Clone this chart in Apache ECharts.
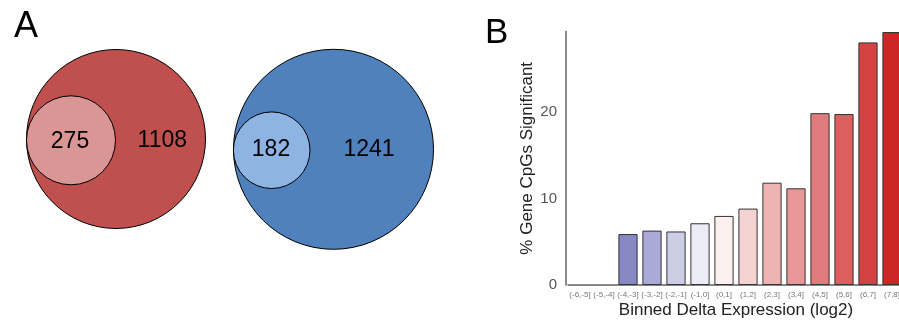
<!DOCTYPE html>
<html>
<head>
<meta charset="utf-8">
<script src="https://cdn.jsdelivr.net/npm/echarts@6/dist/echarts.min.js"></script>
<style>html,body{margin:0;padding:0;background:#fff}#c{width:899px;height:320px}</style>
</head>
<body>
<div id="c"></div>
<script>
// ---- Panel B data ----
const categories = ['(-6,-5]','(-5,-4]','(-4,-3]','(-3,-2]','(-2,-1]','(-1,0]','(0,1]','(1,2]','(2,3]','(3,4]','(4,5]','(5,6]','(6,7]','(7,8]'];
const pctSignificant = [null, null, 5.9, 6.3, 6.2, 7.15, 8.0, 8.85, 11.85, 11.2, 19.9, 19.8, 28.1, 29.3];
const yTickValues = [0, 10, 20];
// ---- Panel A data (Venn counts) ----
const vennLabels = ['275', '1108', '182', '1241'];
const vennCounts = [275, 1108, 182, 1241];

// ---- styling / layout (not data) ----
const barColors = ['#ffffff','#ffffff','#8888c4','#aaaad6','#cdcde6','#ececf6','#faf0f0','#f6d3d3','#eeb4b4','#e89898','#e27b7b','#dc5e5e','#d44242','#cc2626'];
// Venn layout in a 450x320 unit space: [cx, cy, r, fill]
const vennCircleLayout = [
  [116, 139, 89.5, '#c0504d'],
  [71, 140.3, 44.5, '#d99694'],
  [333.5, 149.3, 100, '#4f81bd'],
  [271.7, 150.2, 38.3, '#8eb4e3']
];
const vennTextLayout = [[70, 141.5], [162.3, 141], [271, 150], [369, 150]];

const chart = echarts.init(document.getElementById('c'), null, {renderer: 'canvas'});
const FONT = 'Liberation Sans, Arial, sans-serif';

chart.setOption({
  animation: false,
  graphic: [
    {type: 'text', left: 14, top: 9, style: {text: 'A', font: '36px ' + FONT, fill: '#000'}},
    {type: 'text', left: 485, top: 16, style: {text: 'B', font: '35px ' + FONT, fill: '#000'}}
  ],
  grid: [
    {left: 568, top: 31.6, width: 336, height: 253.4, containLabel: false, outerBoundsMode: 'none'},
    {left: 0, top: 0, width: 450, height: 320, containLabel: false, outerBoundsMode: 'none'}
  ],
  xAxis: [
    {
      gridIndex: 0, type: 'category', data: categories,
      axisLine: {show: true, lineStyle: {color: '#606060', width: 1.5}},
      axisTick: {show: false},
      axisLabel: {interval: 0, fontSize: 8, color: '#777', margin: 6, fontFamily: FONT, hideOverlap: false},
      name: 'Binned Delta Expression (log2)', nameLocation: 'middle', nameGap: 16.5, nameMoveOverlap: false,
      nameTextStyle: {fontSize: 17, color: '#222', fontFamily: FONT}
    },
    {gridIndex: 1, type: 'value', min: 0, max: 450, show: false}
  ],
  yAxis: [
    {
      gridIndex: 0, type: 'value', min: 0, max: 29.35, interval: 10, offset: 2,
      axisLine: {show: true, lineStyle: {color: '#606060', width: 1.5}},
      axisTick: {show: false},
      splitLine: {show: false},
      axisLabel: {fontSize: 15, color: '#555', margin: 9, fontFamily: FONT, showMaxLabel: false,
        formatter: v => yTickValues.includes(v) ? String(v) : ''},
      name: '% Gene CpGs Significant', nameLocation: 'middle', nameGap: 30, nameRotate: 90, nameMoveOverlap: false,
      nameTextStyle: {fontSize: 17, color: '#222', fontFamily: FONT}
    },
    {gridIndex: 1, type: 'value', min: 0, max: 320, inverse: true, show: false}
  ],
  series: [
    {
      type: 'bar', xAxisIndex: 0, yAxisIndex: 0,
      barCategoryGap: '20%',
      data: pctSignificant.map((v, i) => ({value: v, itemStyle: {color: barColors[i]}})),
      itemStyle: {borderColor: '#333', borderWidth: 1}
    },
    {
      type: 'custom', xAxisIndex: 1, yAxisIndex: 1, silent: true,
      data: vennCircleLayout.map((c, i) => [c[0], c[1], c[2], i]),
      renderItem: function (params, api) {
        const p = api.coord([api.value(0), api.value(1)]);
        const r = api.size([api.value(2), 0])[0];
        const c = vennCircleLayout[api.value(3)];
        return {type: 'circle', shape: {cx: p[0], cy: p[1], r: r},
          style: {fill: c[3], stroke: '#000', lineWidth: 1}};
      }
    },
    {
      type: 'custom', xAxisIndex: 1, yAxisIndex: 1, silent: true, z: 5,
      data: vennTextLayout.map((t, i) => [t[0], t[1], vennCounts[i]]),
      renderItem: function (params, api) {
        const p = api.coord([api.value(0), api.value(1)]);
        return {type: 'text', x: p[0], y: p[1],
          style: {text: vennLabels[params.dataIndex], font: '23px ' + FONT, fill: '#000', align: 'center', verticalAlign: 'middle'}};
      }
    }
  ]
});
</script>
</body>
</html>
